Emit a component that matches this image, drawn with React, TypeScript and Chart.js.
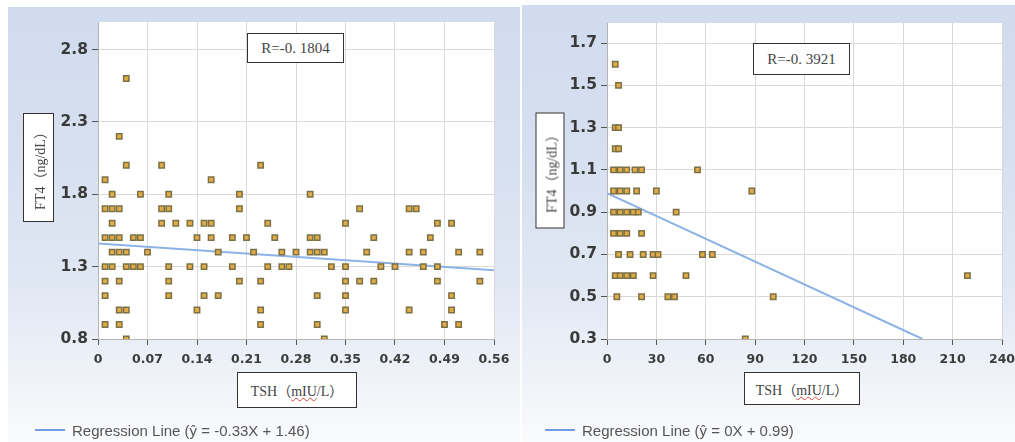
import React, { useEffect, useRef } from "react";
import { Chart, registerables } from "chart.js";

Chart.register(...registerables);

// ---------- Left chart data (TSH 0–0.56 vs FT4) ----------
const leftFT4Levels = [2.6, 2.2, 2.0, 1.9, 1.8, 1.7, 1.6, 1.5, 1.4, 1.3, 1.2, 1.1, 1.0, 0.9, 0.8];
const leftTSHByLevel = [
  [0.04],
  [0.03],
  [0.04, 0.09, 0.23],
  [0.01, 0.16],
  [0.02, 0.06, 0.1, 0.2, 0.3],
  [0.01, 0.02, 0.03, 0.09, 0.1, 0.2, 0.37, 0.44, 0.45],
  [0.02, 0.09, 0.11, 0.13, 0.15, 0.16, 0.24, 0.35, 0.48, 0.5],
  [0.01, 0.02, 0.03, 0.05, 0.06, 0.14, 0.16, 0.19, 0.21, 0.25, 0.3, 0.31, 0.39, 0.47],
  [0.02, 0.03, 0.04, 0.07, 0.17, 0.22, 0.26, 0.28, 0.3, 0.31, 0.32, 0.38, 0.44, 0.46, 0.51, 0.54],
  [0.01, 0.02, 0.04, 0.05, 0.06, 0.1, 0.13, 0.15, 0.19, 0.24, 0.26, 0.27, 0.33, 0.35, 0.4, 0.42, 0.46, 0.48],
  [0.01, 0.03, 0.1, 0.2, 0.23, 0.35, 0.37, 0.39, 0.48, 0.54],
  [0.01, 0.1, 0.15, 0.17, 0.31, 0.35, 0.5],
  [0.03, 0.04, 0.14, 0.23, 0.35, 0.44, 0.5],
  [0.01, 0.03, 0.23, 0.31, 0.49, 0.51],
  [0.04, 0.32],
];
const leftXTicks = [0, 0.07, 0.14, 0.21, 0.28, 0.35, 0.42, 0.49, 0.56];
const leftXLabels = ["0", "0.07", "0.14", "0.21", "0.28", "0.35", "0.42", "0.49", "0.56"];
const leftYTicks = [0.8, 1.3, 1.8, 2.3, 2.8];
const leftYLabels = ["0.8", "1.3", "1.8", "2.3", "2.8"];
const leftSlope = -0.33;
const leftIntercept = 1.46;
const leftR = "R=-0. 1804";
const leftLegend = "Regression Line (ŷ = -0.33X + 1.46)";

// ---------- Right chart data (TSH 0–240 vs FT4) ----------
const rightFT4Levels = [1.6, 1.5, 1.3, 1.2, 1.1, 1.0, 0.9, 0.8, 0.7, 0.6, 0.5, 0.3];
const rightTSHByLevel = [
  [5],
  [7],
  [5, 7],
  [5, 7],
  [4, 8, 12, 17, 21, 55],
  [4, 8, 12, 18, 30, 88],
  [4, 8, 12, 16, 19, 42],
  [4, 8, 12, 21],
  [7, 14, 22, 28, 31, 58, 64],
  [5, 8, 12, 16, 28, 48, 219],
  [6, 21, 37, 41, 101],
  [84],
];
const rightXTicks = [0, 30, 60, 90, 120, 150, 180, 210, 240];
const rightXLabels = ["0", "30", "60", "90", "120", "150", "180", "210", "240"];
const rightYTicks = [0.3, 0.5, 0.7, 0.9, 1.1, 1.3, 1.5, 1.7];
const rightYLabels = ["0.3", "0.5", "0.7", "0.9", "1.1", "1.3", "1.5", "1.7"];
const rightSlope = -0.0036;
const rightIntercept = 0.99;
const rightR = "R=-0. 3921";
const rightLegend = "Regression Line (ŷ = 0X + 0.99)";

type PanelCfg = {
  levels: number[];
  xsByLevel: number[][];
  xTicks: number[];
  xLabels: string[];
  yTicks: number[];
  yLabels: string[];
  xMin: number;
  xMax: number;
  yMin: number;
  yMax: number;
  slope: number;
  intercept: number;
  lineEndX: number;
  canvasW: number;
  canvasH: number;
  yAxisW: number;
  padTop: number;
  padRight: number;
  padBottom: number;
};

const plotBg = {
  id: "plotBg",
  beforeDraw(chart: any) {
    const { ctx, chartArea: a } = chart;
    ctx.save();
    ctx.fillStyle = "#ffffff";
    ctx.fillRect(a.left, a.top, a.right - a.left, a.bottom - a.top);
    ctx.restore();
  },
};

function buildConfig(p: PanelCfg): any {
  const pts: { x: number; y: number }[] = [];
  p.levels.forEach((lv, i) => p.xsByLevel[i].forEach((x) => pts.push({ x, y: lv })));
  const line = [
    { x: p.xMin, y: p.intercept + p.slope * p.xMin },
    { x: p.lineEndX, y: p.intercept + p.slope * p.lineEndX },
  ];
  const tickFontX = { family: "DejaVu Sans", weight: "bold" as const, size: 12.5 };
  const tickFontY = { family: "DejaVu Sans", weight: "bold" as const, size: 15.5 };
  return {
    type: "scatter",
    data: {
      datasets: [
        {
          type: "line",
          data: line,
          showLine: true,
          borderColor: "#8cb2e6",
          borderWidth: 2,
          pointRadius: 0,
          order: 2,
        },
        {
          type: "scatter",
          data: pts,
          pointStyle: "rect",
          radius: 3.8,
          backgroundColor: "#e3ab44",
          borderColor: "#7b7146",
          borderWidth: 1.5,
          order: 1,
        },
      ],
    },
    options: {
      animation: false,
      responsive: false,
      maintainAspectRatio: false,
      events: [],
      layout: { padding: { left: 0, top: p.padTop, right: p.padRight, bottom: p.padBottom } },
      plugins: { legend: { display: false }, tooltip: { enabled: false } },
      scales: {
        x: {
          type: "linear",
          min: p.xMin,
          max: p.xMax,
          afterBuildTicks: (s: any) => {
            s.ticks = p.xTicks.map((v) => ({ value: v }));
          },
          afterFit: (s: any) => {
            s.height = 30;
            s.paddingLeft = 0;
            s.paddingRight = 0;
          },
          ticks: {
            autoSkip: false,
            maxRotation: 0,
            padding: 7,
            color: "#3c3c3c",
            font: tickFontX,
            callback: (_v: any, i: number) => p.xLabels[i],
          },
          grid: { color: "#d9d9d9", lineWidth: 1, tickLength: 6, tickColor: "#555" },
          border: { color: "#b5b5b5" },
        },
        y: {
          type: "linear",
          min: p.yMin,
          max: p.yMax,
          afterBuildTicks: (s: any) => {
            s.ticks = p.yTicks.map((v) => ({ value: v }));
          },
          afterFit: (s: any) => {
            s.width = p.yAxisW;
            s.paddingTop = 0;
            s.paddingBottom = 0;
          },
          ticks: {
            autoSkip: false,
            padding: 4,
            color: "#3a3a3a",
            font: tickFontY,
            callback: (_v: any, i: number) => p.yLabels[i],
          },
          grid: { color: "#d9d9d9", lineWidth: 1, tickLength: 6, tickColor: "#555" },
          border: { color: "#b5b5b5" },
        },
      },
    },
    plugins: [plotBg],
  };
}

function ChartCanvas({ cfg, left }: { cfg: PanelCfg; left: number }) {
  const ref = useRef<HTMLCanvasElement | null>(null);
  useEffect(() => {
    if (!ref.current) return;
    const chart = new Chart(ref.current, buildConfig(cfg));
    return () => chart.destroy();
  }, []);
  return (
    <canvas
      ref={ref}
      width={cfg.canvasW}
      height={cfg.canvasH}
      style={{ position: "absolute", left, top: 0, width: cfg.canvasW, height: cfg.canvasH }}
    />
  );
}

const serif = "'Liberation Serif', 'Times New Roman', 'Noto Sans CJK SC', serif";

function Box({
  x,
  y,
  w,
  h,
  children,
  vertical,
  size,
}: {
  x: number;
  y: number;
  w: number;
  h: number;
  children: React.ReactNode;
  vertical?: boolean;
  size: number;
}) {
  const common: React.CSSProperties = {
    position: "absolute",
    boxSizing: "border-box",
    border: "1.5px solid #333",
    background: "#fff",
    display: "flex",
    alignItems: "center",
    justifyContent: "center",
    fontFamily: serif,
    fontSize: size,
    color: "#444",
    whiteSpace: "nowrap",
  };
  if (vertical) {
    const cx = x + w / 2;
    const cy = y + h / 2;
    return (
      <div
        style={{
          ...common,
          left: cx - h / 2,
          top: cy - w / 2,
          width: h,
          height: w,
          transform: "rotate(-90deg)",
        }}
      >
        {children}
      </div>
    );
  }
  return <div style={{ ...common, left: x, top: y, width: w, height: h }}>{children}</div>;
}

function Legend({ x, y, text }: { x: number; y: number; text: string }) {
  return (
    <div
      style={{
        position: "absolute",
        left: x,
        top: y - 10,
        height: 20,
        display: "flex",
        alignItems: "center",
        fontFamily: "'Liberation Sans', Arial, sans-serif",
        fontSize: 15,
        color: "#555",
        whiteSpace: "nowrap",
      }}
    >
      <span style={{ display: "inline-block", width: 30, height: 2, background: "#6f9fe0", marginRight: 7 }} />
      {text}
    </div>
  );
}

const TSHTitle = (
  <span>
    TSH（
    <span style={{ textDecoration: "underline wavy #d44", textDecorationThickness: "1px" }}>mIU</span>
    /L）
  </span>
);

export default function App() {
  const leftCfg: PanelCfg = {
    levels: leftFT4Levels,
    xsByLevel: leftTSHByLevel,
    xTicks: leftXTicks,
    xLabels: leftXLabels,
    yTicks: leftYTicks,
    yLabels: leftYLabels,
    xMin: 0,
    xMax: 0.56,
    yMin: 0.8,
    yMax: 2.99,
    slope: leftSlope,
    intercept: leftIntercept,
    lineEndX: 0.56,
    canvasW: 515,
    canvasH: 442,
    yAxisW: 98,
    padTop: 22,
    padRight: 515 - 494,
    padBottom: 442 - 339 - 30,
  };
  const rightCfg: PanelCfg = {
    levels: rightFT4Levels,
    xsByLevel: rightTSHByLevel,
    xTicks: rightXTicks,
    xLabels: rightXLabels,
    yTicks: rightYTicks,
    yLabels: rightYLabels,
    xMin: 0,
    xMax: 240,
    yMin: 0.3,
    yMax: 1.795,
    slope: rightSlope,
    intercept: rightIntercept,
    lineEndX: (0.3 - rightIntercept) / rightSlope,
    canvasW: 500,
    canvasH: 442,
    yAxisW: 92,
    padTop: 23,
    padRight: 500 - 487,
    padBottom: 442 - 339 - 30,
  };

  const grad =
    "linear-gradient(to bottom, #d0dbee 0%, #d7e0f0 35%, #e1e8f4 65%, #eff2f8 85%, #fafbfc 100%)";

  return (
    <div
      style={{
        position: "fixed",
        left: 0,
        top: 0,
        width: 1015,
        height: 442,
        background: "#ffffff",
        overflow: "hidden",
      }}
    >
      <div style={{ position: "absolute", left: 8, top: 7, width: 512, height: 435, background: grad }} />
      <div style={{ position: "absolute", left: 522, top: 5, width: 493, height: 437, background: grad }} />

      <ChartCanvas cfg={leftCfg} left={0} />
      <ChartCanvas cfg={rightCfg} left={515} />

      <Box x={247} y={33} w={97} h={30} size={15}>
        {leftR}
      </Box>
      <Box x={753} y={43} w={97} h={32} size={15}>
        {rightR}
      </Box>

      <Box x={23} y={113} w={31} h={109} size={14} vertical>
        FT4（ng/dL）
      </Box>
      <Box x={535} y={112} w={29} h={116} size={14} vertical>
        FT4（ng/dL）
      </Box>

      <Box x={237} y={372} w={120} h={36} size={14}>
        {TSHTitle}
      </Box>
      <Box x={744} y={372} w={116} h={33} size={14}>
        {TSHTitle}
      </Box>

      <Legend x={35} y={430} text={leftLegend} />
      <Legend x={545} y={430} text={rightLegend} />
    </div>
  );
}
